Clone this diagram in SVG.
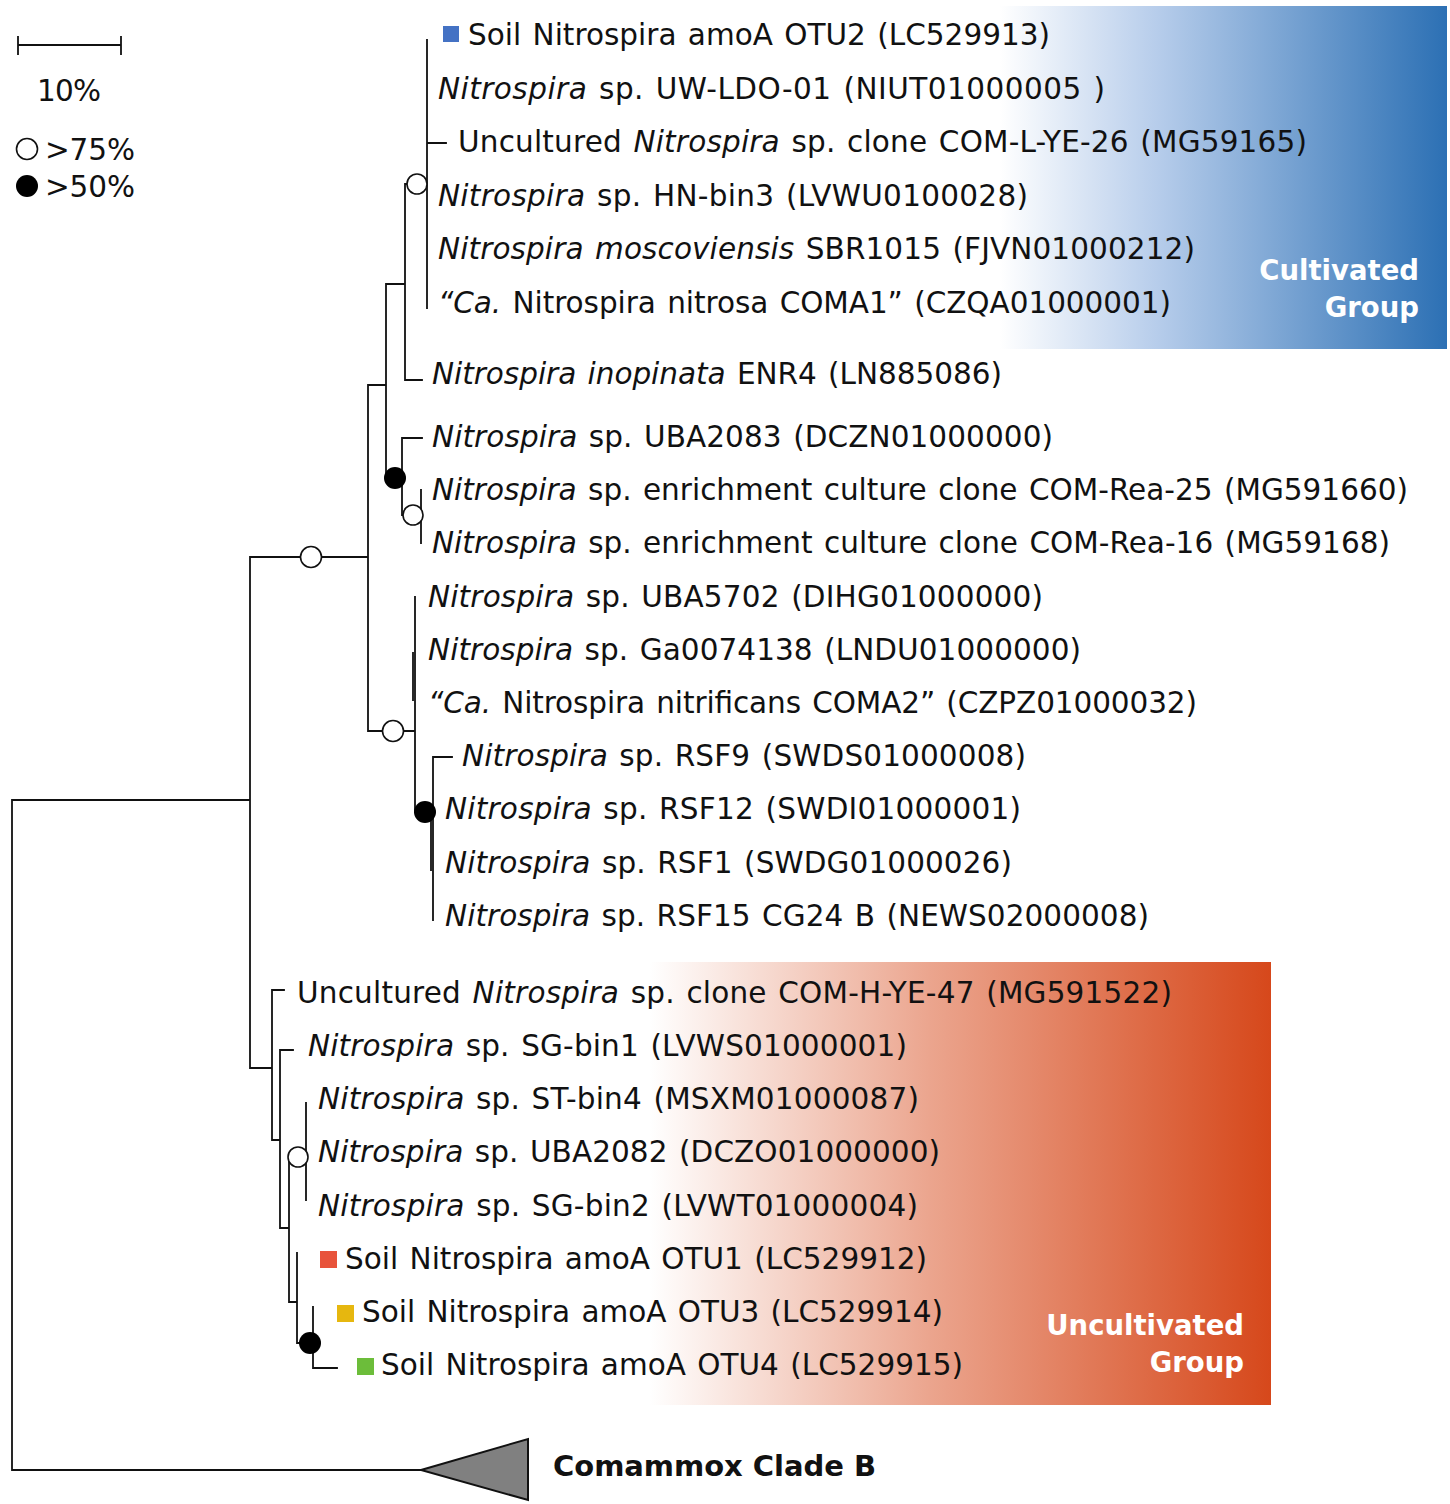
<svg xmlns="http://www.w3.org/2000/svg" width="1450" height="1504" viewBox="0 0 1450 1504">
<style>
.lab{font-family:"DejaVu Sans",Verdana,sans-serif;font-size:29.5px;fill:#111;word-spacing:2px}
.i{font-style:italic}
.grp{font-family:"DejaVu Sans",Verdana,sans-serif;font-size:27.5px;font-weight:bold;fill:#fff;text-anchor:end}
.ln{fill:none;stroke:#111;stroke-width:1.8;stroke-linecap:square}
.open{fill:#fff;stroke:#111;stroke-width:1.6}
.full{fill:#000}
</style>
<defs>
<linearGradient id="gBlue" gradientUnits="userSpaceOnUse" x1="1000" y1="0" x2="1447" y2="0">
<stop offset="0" stop-color="#ffffff"/>
<stop offset="0.35" stop-color="#b7cdeb"/>
<stop offset="1" stop-color="#2c70b4"/>
</linearGradient>
<linearGradient id="gRed" gradientUnits="userSpaceOnUse" x1="650" y1="0" x2="1271" y2="0">
<stop offset="0" stop-color="#ffffff"/>
<stop offset="0.45" stop-color="#eba58e"/>
<stop offset="1" stop-color="#d6481b"/>
</linearGradient>
</defs>

<g id="group-boxes">
<rect x="960" y="6" width="487" height="343" fill="url(#gBlue)"/>
<rect x="640" y="962" width="631" height="443" fill="url(#gRed)"/>
</g>

<g id="legend">
<path class="ln" d="M18,45 H121 M18,37 V54 M121,37 V54"/>
<text class="lab" x="37" y="101" textLength="64" lengthAdjust="spacing">10%</text>
<circle class="open" cx="27" cy="149" r="10.5"/>
<text class="lab" x="45" y="160" textLength="90" lengthAdjust="spacing">&gt;75%</text>
<circle class="full" cx="27" cy="186" r="11"/>
<text class="lab" x="45" y="197" textLength="90" lengthAdjust="spacing">&gt;50%</text>
</g>

<g id="connectors">
<path class="ln" d="M427,40 V308 M427,143 H446 M405,184 H427 M405,184 V380 H422 M386,284 H405 M386,284 V477 H402 M402,438 V515 M402,438 H422 M402,515 H421 M421,490 V543 M368,385 H386 M368,385 V731 M250,557 H368 M368,731 H415 M415,597 V812 M413,653 V700 M415,812 H433 M433,757 V920 M433,757 H452 M431,810 V870 M250,557 V1068 M12,800 H250 M12,800 V1470 H421 M250,1068 H272 M272,990 V1140 M272,990 H284 M272,1140 H280 M280,1050 V1228 M280,1050 H293 M280,1228 H289 M289,1157 V1302 M289,1157 H306 M306,1103 V1200 M289,1302 H297 M297,1253 V1343 M297,1343 H313 M313,1307 V1368 H337"/>
<circle class="open" cx="417" cy="184" r="10"/>
<circle class="full" cx="395" cy="478" r="11"/>
<circle class="open" cx="413" cy="515" r="10"/>
<circle class="open" cx="311" cy="557" r="10.5"/>
<circle class="open" cx="393" cy="731" r="10.5"/>
<circle class="full" cx="425" cy="812" r="11"/>
<circle class="open" cx="298" cy="1157" r="10"/>
<circle class="full" cx="310" cy="1343" r="11"/>
</g>

<g id="n1"><rect x="443" y="26" width="16" height="16" fill="#4472c4"/><text class="lab" x="468" y="45" textLength="582" lengthAdjust="spacing">Soil Nitrospira amoA OTU2 (LC529913)</text></g>
<g id="n2"><text class="lab" x="438" y="99" textLength="667" lengthAdjust="spacing"><tspan class="i">Nitrospira</tspan> sp. UW-LDO-01 (NIUT01000005 )</text></g>
<g id="n3"><text class="lab" x="458" y="152" textLength="849" lengthAdjust="spacing">Uncultured <tspan class="i">Nitrospira</tspan> sp. clone COM-L-YE-26 (MG59165)</text></g>
<g id="n4"><text class="lab" x="438" y="206" textLength="590" lengthAdjust="spacing"><tspan class="i">Nitrospira</tspan> sp. HN-bin3 (LVWU0100028)</text></g>
<g id="n5"><text class="lab" x="438" y="259" textLength="757" lengthAdjust="spacing"><tspan class="i">Nitrospira moscoviensis</tspan> SBR1015 (FJVN01000212)</text></g>
<g id="n6"><text class="lab" x="438" y="313" textLength="733" lengthAdjust="spacing"><tspan class="i">“Ca.</tspan> Nitrospira nitrosa COMA1” (CZQA01000001)</text></g>
<g id="n7"><text class="lab" x="432" y="384" textLength="570" lengthAdjust="spacing"><tspan class="i">Nitrospira inopinata</tspan> ENR4 (LN885086)</text></g>
<g id="n8"><text class="lab" x="432" y="447" textLength="621" lengthAdjust="spacing"><tspan class="i">Nitrospira</tspan> sp. UBA2083 (DCZN01000000)</text></g>
<g id="n9"><text class="lab" x="432" y="500" textLength="976" lengthAdjust="spacing"><tspan class="i">Nitrospira</tspan> sp. enrichment culture clone COM-Rea-25 (MG591660)</text></g>
<g id="n10"><text class="lab" x="432" y="553" textLength="958" lengthAdjust="spacing"><tspan class="i">Nitrospira</tspan> sp. enrichment culture clone COM-Rea-16 (MG59168)</text></g>
<g id="n11"><text class="lab" x="428" y="607" textLength="615" lengthAdjust="spacing"><tspan class="i">Nitrospira</tspan> sp. UBA5702 (DIHG01000000)</text></g>
<g id="n12"><text class="lab" x="428" y="660" textLength="653" lengthAdjust="spacing"><tspan class="i">Nitrospira</tspan> sp. Ga0074138 (LNDU01000000)</text></g>
<g id="n13"><text class="lab" x="428" y="713" textLength="769" lengthAdjust="spacing"><tspan class="i">“Ca.</tspan> Nitrospira nitrificans COMA2” (CZPZ01000032)</text></g>
<g id="n14"><text class="lab" x="462" y="766" textLength="564" lengthAdjust="spacing"><tspan class="i">Nitrospira</tspan> sp. RSF9 (SWDS01000008)</text></g>
<g id="n15"><text class="lab" x="445" y="819" textLength="576" lengthAdjust="spacing"><tspan class="i">Nitrospira</tspan> sp. RSF12 (SWDI01000001)</text></g>
<g id="n16"><text class="lab" x="445" y="873" textLength="567" lengthAdjust="spacing"><tspan class="i">Nitrospira</tspan> sp. RSF1 (SWDG01000026)</text></g>
<g id="n17"><text class="lab" x="445" y="926" textLength="704" lengthAdjust="spacing"><tspan class="i">Nitrospira</tspan> sp. RSF15 CG24 B (NEWS02000008)</text></g>
<g id="n18"><text class="lab" x="297" y="1003" textLength="875" lengthAdjust="spacing">Uncultured <tspan class="i">Nitrospira</tspan> sp. clone COM-H-YE-47 (MG591522)</text></g>
<g id="n19"><text class="lab" x="308" y="1056" textLength="599" lengthAdjust="spacing"><tspan class="i">Nitrospira</tspan> sp. SG-bin1 (LVWS01000001)</text></g>
<g id="n20"><text class="lab" x="318" y="1109" textLength="601" lengthAdjust="spacing"><tspan class="i">Nitrospira</tspan> sp. ST-bin4 (MSXM01000087)</text></g>
<g id="n21"><text class="lab" x="318" y="1162" textLength="622" lengthAdjust="spacing"><tspan class="i">Nitrospira</tspan> sp. UBA2082 (DCZO01000000)</text></g>
<g id="n22"><text class="lab" x="318" y="1216" textLength="600" lengthAdjust="spacing"><tspan class="i">Nitrospira</tspan> sp. SG-bin2 (LVWT01000004)</text></g>
<g id="n23"><rect x="320" y="1251" width="17" height="17" fill="#e8533b"/><text class="lab" x="345" y="1269" textLength="582" lengthAdjust="spacing">Soil Nitrospira amoA OTU1 (LC529912)</text></g>
<g id="n24"><rect x="337" y="1305" width="17" height="17" fill="#e6b70f"/><text class="lab" x="362" y="1322" textLength="581" lengthAdjust="spacing">Soil Nitrospira amoA OTU3 (LC529914)</text></g>
<g id="n25"><rect x="357" y="1358" width="17" height="17" fill="#6cbd3a"/><text class="lab" x="381" y="1375" textLength="582" lengthAdjust="spacing">Soil Nitrospira amoA OTU4 (LC529915)</text></g>

<g id="clade-b">
<polygon points="421,1470 528,1439 528,1500" fill="#808080" stroke="#111" stroke-width="2" stroke-linejoin="miter"/>
<text x="553" y="1476" font-family="'DejaVu Sans',Verdana,sans-serif" font-size="29" font-weight="bold" fill="#111" textLength="323" lengthAdjust="spacing">Comammox Clade B</text>
</g>

<g id="label-cultivated">
<text class="grp" x="1419" y="280">Cultivated</text>
<text class="grp" x="1419" y="317">Group</text>
</g>
<g id="label-uncultivated">
<text class="grp" x="1244" y="1335">Uncultivated</text>
<text class="grp" x="1244" y="1372">Group</text>
</g>
</svg>
